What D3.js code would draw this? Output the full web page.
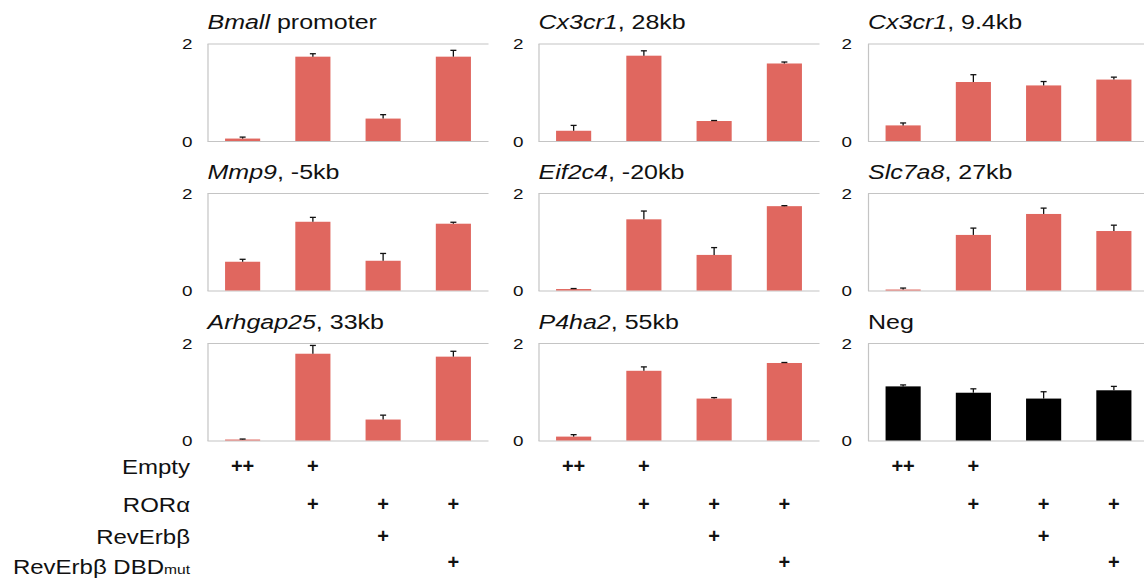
<!DOCTYPE html>
<html><head><meta charset="utf-8">
<script src="https://cdn.jsdelivr.net/npm/d3@7"></script>
<style>
html,body{margin:0;padding:0;background:#fff;}
svg{display:block;font-family:"Liberation Sans",Arial,Helvetica,sans-serif;}
</style></head>
<body>
<svg id="chart" width="1144" height="584"></svg>
<script>
// ---- data ----
const conditions = ["c1","c2","c3","c4"];
const panelGenes = ["Bmall","Cx3cr1","Cx3cr1","Mmp9","Eif2c4","Slc7a8","Arhgap25","P4ha2",""];
const panelSuffix = [" promoter",", 28kb",", 9.4kb",", -5kb",", -20kb",", 27kb",", 33kb",", 55kb","Neg"];
const bmallVals   = [0.05,1.73,0.46,1.73];  const bmallErr   = [0.03,0.06,0.08,0.13];
const cx28Vals    = [0.21,1.75,0.41,1.59];  const cx28Err    = [0.11,0.10,0.01,0.03];
const cx94Vals    = [0.32,1.21,1.14,1.26];  const cx94Err    = [0.05,0.15,0.08,0.05];
const mmp9Vals    = [0.59,1.41,0.61,1.37];  const mmp9Err    = [0.05,0.09,0.15,0.03];
const eifVals     = [0.03,1.46,0.73,1.73];  const eifErr     = [0.01,0.17,0.15,0.01];
const slcVals     = [0.02,1.14,1.57,1.22];  const slcErr     = [0.03,0.14,0.12,0.12];
const arhVals     = [0.02,1.78,0.43,1.72];  const arhErr     = [0.01,0.17,0.09,0.11];
const p4hVals     = [0.08,1.43,0.86,1.59];  const p4hErr     = [0.04,0.08,0.02,0.01];
const negVals     = [1.11,0.98,0.86,1.03];  const negErr     = [0.03,0.08,0.14,0.08];
const yTicks = [0,2];
const rowLabels = ["Empty","ROR\u03b1","RevErb\u03b2","RevErb\u03b2 DBD"];
const rowLabelSub = ["","","","mut"];
const plusMarks = [
  ["++","+","",""],
  ["","+","+","+"],
  ["","","+",""],
  ["","","","+"]
];

const vals = [bmallVals,cx28Vals,cx94Vals,mmp9Vals,eifVals,slcVals,arhVals,p4hVals,negVals];
const errs = [bmallErr,cx28Err,cx94Err,mmp9Err,eifErr,slcErr,arhErr,p4hErr,negErr];

// ---- layout ----
const colX = [207.5, 538.5, 868];
const rowY = [43.5, 193, 343];
const pw = 281, ph = 97.5;
const red = "#e0675f", gridC = "#c4c4c4";
const titleSX = 1.25, tickSX = 1.3, labSX = 1.2;

const svg = d3.select("#chart");
const x = d3.scaleBand().domain(conditions).range([0,pw]).paddingInner(0.5).paddingOuter(0.25);
const y = d3.scaleLinear().domain([0,2]).range([ph,0]);

vals.forEach((v,i)=>{
  const col = i%3, row = Math.floor(i/3);
  const g = svg.append("g").attr("transform",`translate(${colX[col]},${rowY[row]})`);
  const ax = g.append("g").call(d3.axisLeft(y).tickValues(yTicks).tickSizeInner(-pw).tickSizeOuter(0).tickPadding(0));
  ax.select(".domain").attr("stroke",gridC).attr("stroke-width",1.2);
  ax.selectAll(".tick line").attr("stroke",gridC).attr("stroke-width",1.2);
  ax.selectAll(".tick text").remove();
  ax.selectAll(".tick").append("text")
    .attr("transform",`translate(${col===2?-16:-15},0) scale(${tickSX},1)`)
    .attr("text-anchor","end").attr("dy","0.36em")
    .attr("font-size",14.5).attr("fill","#111").text(d=>d);
  const fill = i===8 ? "#000" : red;
  g.selectAll("rect.bar").data(v).enter().append("rect")
    .attr("x",(d,k)=>x(conditions[k])).attr("width",x.bandwidth())
    .attr("y",d=>y(d)).attr("height",d=>y(0)-y(d))
    .attr("fill",fill);
  const e = errs[i];
  const cw = 3;
  v.forEach((d,k)=>{
    const cx = x(conditions[k])+x.bandwidth()/2;
    g.append("line").attr("x1",cx).attr("x2",cx).attr("y1",y(d)).attr("y2",y(d+e[k]))
      .attr("stroke","#111").attr("stroke-width",1.3);
    g.append("line").attr("x1",cx-cw).attr("x2",cx+cw).attr("y1",y(d+e[k])).attr("y2",y(d+e[k]))
      .attr("stroke","#111").attr("stroke-width",1.3);
  });
  const t = g.append("text").attr("transform",`translate(0,-14.5) scale(${titleSX},1)`)
    .attr("font-size",20).attr("fill","#111");
  if(panelGenes[i]){ t.append("tspan").attr("font-style","italic").text(panelGenes[i]); }
  t.append("tspan").text(panelSuffix[i]);
});

// bottom condition table
const labY = [467, 505, 537, 567];
const plusY = [466, 504, 536, 562];
rowLabels.forEach((lab,r)=>{
  const t = svg.append("text").attr("transform",`translate(190,${labY[r]}) scale(${labSX},1)`)
    .attr("text-anchor","end").attr("dy","0.36em").attr("font-size",20).attr("fill","#111");
  t.append("tspan").text(lab);
  if(rowLabelSub[r]) t.append("tspan").attr("font-size",13).text(rowLabelSub[r]);
  colX.forEach(cx0=>{
    plusMarks[r].forEach((m,k)=>{
      if(!m) return;
      svg.append("text").attr("x",cx0+x(conditions[k])+x.bandwidth()/2).attr("y",plusY[r])
        .attr("dy","0.36em").attr("text-anchor","middle").attr("font-size",20).attr("font-weight","bold")
        .attr("fill","#111").text(m);
    });
  });
});
</script>
</body></html>
